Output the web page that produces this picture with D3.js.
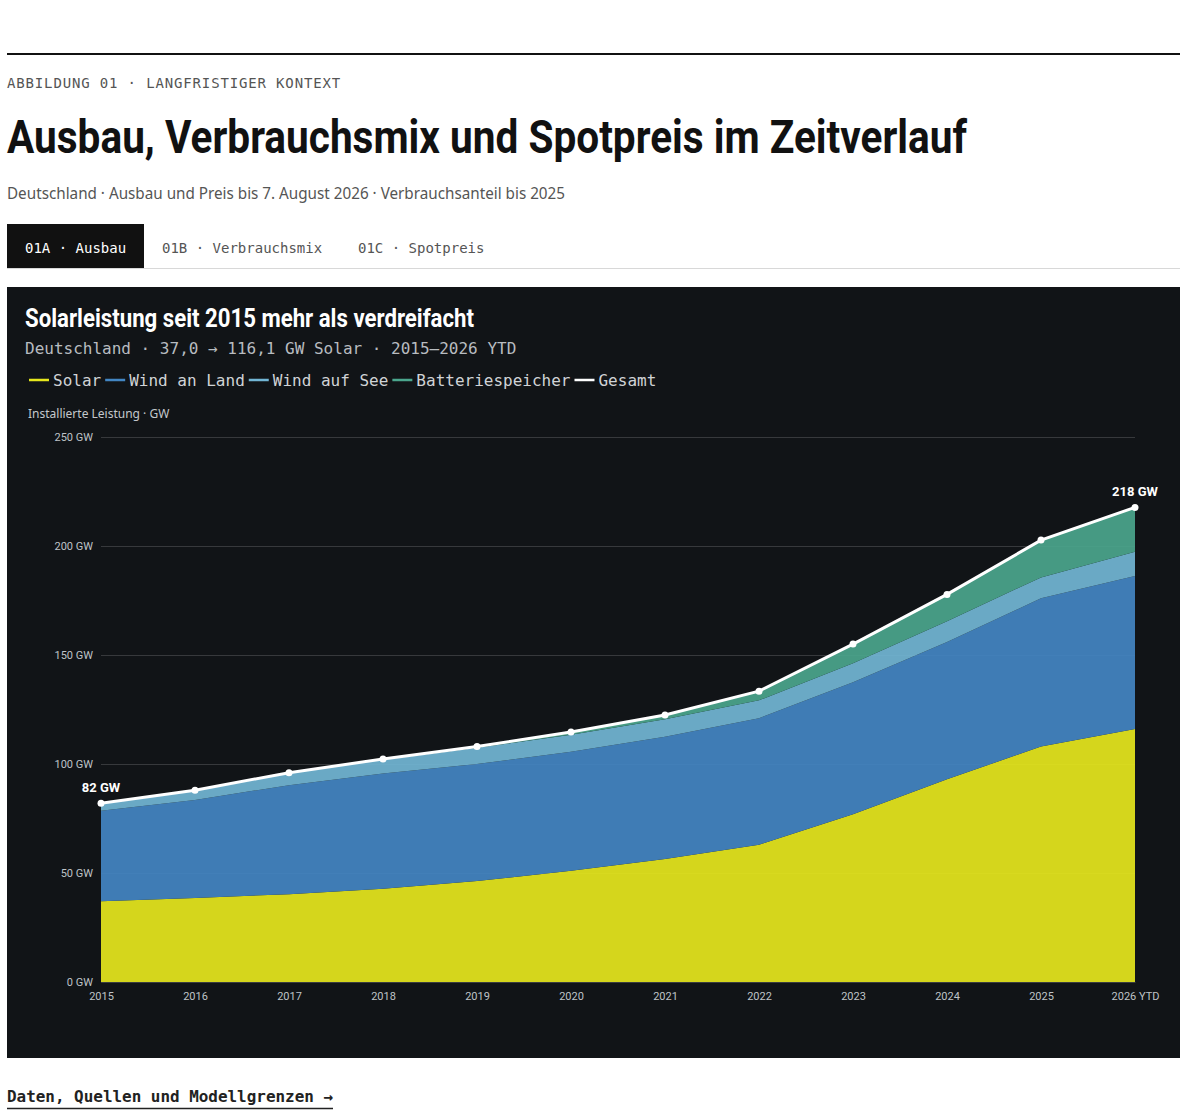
<!DOCTYPE html>
<meta charset="utf-8">
<head>
    <title>Ausbau, Verbrauchsmix und Spotpreis im Zeitverlauf</title>
    <script src="https://cdn.jsdelivr.net/npm/d3@7"></script>
    <style>
        body { margin: 0; background: #fff; }
        svg { display: block; }
        .mono { font-family: 'DejaVu Sans Mono', monospace; }
        .sans { font-family: 'Noto Sans', sans-serif; }
        .head { font-family: Roboto, sans-serif; font-weight: 700; }
        .axis text { font-family: Roboto, sans-serif; font-size: 11px; fill: #bfc3c7; }
        .grid line { stroke: #ffffff; stroke-opacity: 0.16; }
    </style>
</head>
<body>
<svg id="page" width="1180" height="1111"></svg>
<script>
    // Jahre und installierte Leistung in GW
    const years = ['2015', '2016', '2017', '2018', '2019', '2020', '2021', '2022', '2023', '2024', '2025', '2026 YTD'];
    const solar = [37.0, 38.5, 40.3, 42.8, 46.3, 51.0, 56.4, 63.0, 77.0, 93.0, 108.0, 116.1];
    const windLand = [41.5, 45.0, 50.0, 52.8, 53.7, 54.6, 56.1, 58.0, 60.5, 63.0, 68.0, 70.1];
    const windSee = [3.2, 4.1, 5.4, 6.4, 7.5, 7.8, 8.0, 8.2, 8.7, 9.5, 9.6, 11.2];
    const batterie = [0.1, 0.3, 0.3, 0.4, 0.5, 1.2, 1.9, 4.2, 8.8, 12.3, 17.1, 20.3];
    const gesamt = [82, 88, 96, 102.3, 108, 114.7, 122.5, 133.4, 155, 177.8, 202.7, 217.7];
    const yTicks = [0, 50, 100, 150, 200, 250];

    const series = [
        {key: 'solar', name: 'Solar', color: '#e6e71d', values: solar},
        {key: 'windLand', name: 'Wind an Land', color: '#4386c3', values: windLand},
        {key: 'windSee', name: 'Wind auf See', color: '#72b6d5', values: windSee},
        {key: 'batterie', name: 'Batteriespeicher', color: '#4ba68d', values: batterie}
    ];

    const rows = years.map((y, i) => {
        const r = {year: y};
        series.forEach(s => r[s.key] = s.values[i]);
        return r;
    });

    const svg = d3.select('#page');

    // ---- Seitenkopf ----
    svg.append('line')
        .attr('x1', 7).attr('x2', 1180).attr('y1', 54).attr('y2', 54)
        .attr('stroke', '#111').attr('stroke-width', 2);

    svg.append('text').attr('class', 'mono')
        .attr('x', 7).attr('y', 88)
        .style('font-size', '14px').style('letter-spacing', '0.85px').attr('fill', '#555')
        .text('ABBILDUNG 01 · LANGFRISTIGER KONTEXT');

    svg.append('text').attr('class', 'head')
        .attr('x', 7).attr('y', 153)
        .style('font-size', '46px').attr('fill', '#111')
        .attr('textLength', 960).attr('lengthAdjust', 'spacingAndGlyphs')
        .text('Ausbau, Verbrauchsmix und Spotpreis im Zeitverlauf');

    svg.append('text').attr('class', 'sans')
        .attr('x', 7).attr('y', 199)
        .style('font-size', '16px').attr('fill', '#555')
        .attr('textLength', 558).attr('lengthAdjust', 'spacingAndGlyphs')
        .text('Deutschland · Ausbau und Preis bis 7. August 2026 · Verbrauchsanteil bis 2025');

    // ---- Tabs ----
    const tabs = [
        {label: '01A · Ausbau', x: 25, active: true},
        {label: '01B · Verbrauchsmix', x: 162, active: false},
        {label: '01C · Spotpreis', x: 358, active: false}
    ];
    svg.append('rect').attr('x', 7).attr('y', 224).attr('width', 137).attr('height', 44).attr('fill', '#111');
    svg.append('line')
        .attr('x1', 7).attr('x2', 1180).attr('y1', 268.5).attr('y2', 268.5)
        .attr('stroke', '#d8d8d8').attr('stroke-width', 1);
    svg.selectAll('.tab').data(tabs).enter().append('text')
        .attr('class', 'tab mono')
        .attr('x', d => d.x).attr('y', 253)
        .style('font-size', '14px')
        .attr('fill', d => d.active ? '#fff' : '#555')
        .text(d => d.label);

    // ---- Diagrammfläche ----
    svg.append('rect').attr('x', 7).attr('y', 287).attr('width', 1173).attr('height', 771).attr('fill', '#111417');

    svg.append('text').attr('class', 'head')
        .attr('x', 25).attr('y', 327)
        .style('font-size', '25px').attr('fill', '#fff')
        .attr('textLength', 449).attr('lengthAdjust', 'spacingAndGlyphs')
        .text('Solarleistung seit 2015 mehr als verdreifacht');

    svg.append('text').attr('class', 'mono')
        .attr('x', 25).attr('y', 354)
        .style('font-size', '16px').attr('fill', '#b8bcc0')
        .text('Deutschland · 37,0 → 116,1 GW Solar · 2015–2026 YTD');

    // Legende
    const legendItems = series.map(s => ({name: s.name, color: s.color})).concat([{name: 'Gesamt', color: '#fff'}]);
    const legend = svg.append('g').attr('transform', 'translate(29, 386)');
    let lx = 0;
    legendItems.forEach(item => {
        legend.append('line')
            .attr('x1', lx).attr('x2', lx + 20).attr('y1', -6).attr('y2', -6)
            .attr('stroke', item.color).attr('stroke-width', 2.5);
        const t = legend.append('text').attr('class', 'mono')
            .attr('x', lx + 24).attr('y', 0)
            .style('font-size', '16px').attr('fill', '#d0d3d6')
            .text(item.name);
        lx += 24 + t.node().getComputedTextLength() + 4;
    });

    svg.append('text').attr('class', 'sans')
        .attr('x', 28).attr('y', 418)
        .style('font-size', '12px').attr('fill', '#c4c8cc')
        .text('Installierte Leistung · GW');

    const xScale = d3.scalePoint().domain(years).range([101, 1135]);
    const yScale = d3.scaleLinear().domain([0, 250]).range([982, 437]);

    // Gitterlinien
    svg.append('g').attr('class', 'grid')
        .attr('transform', 'translate(101, 0)')
        .call(d3.axisLeft(yScale).tickValues(yTicks).tickSize(-1034).tickFormat(''))
        .call(g => g.select('.domain').remove());

    // gestapelte Flächen
    const stack = d3.stack().keys(series.map(s => s.key));
    const layers = stack(rows);
    const area = d3.area()
        .x(d => xScale(d.data.year))
        .y0(d => yScale(d[0]))
        .y1(d => yScale(d[1]));

    svg.append('g').selectAll('path')
        .data(layers)
        .enter().append('path')
        .attr('d', area)
        .attr('fill', (d, i) => series[i].color)
        .attr('fill-opacity', 0.92);

    // Gesamtlinie
    const line = d3.line().x((d, i) => xScale(years[i])).y(d => yScale(d));
    svg.append('path')
        .datum(gesamt)
        .attr('d', line)
        .attr('fill', 'none')
        .attr('stroke', '#fff')
        .attr('stroke-width', 3);

    svg.append('g').selectAll('circle')
        .data(gesamt)
        .enter().append('circle')
        .attr('cx', (d, i) => xScale(years[i]))
        .attr('cy', d => yScale(d))
        .attr('r', 3.5)
        .attr('fill', '#fff');

    // Endwerte
    const ends = [0, gesamt.length - 1];
    svg.append('g').selectAll('text')
        .data(ends)
        .enter().append('text')
        .attr('x', i => xScale(years[i]))
        .attr('y', i => yScale(gesamt[i]) - 11)
        .attr('text-anchor', 'middle')
        .style('font-family', 'Roboto, sans-serif').style('font-weight', 700).style('font-size', '13px')
        .attr('fill', '#fff')
        .text(i => `${Math.round(gesamt[i])} GW`);

    // Achsen
    svg.append('g').attr('class', 'axis')
        .attr('transform', 'translate(101, 0)')
        .call(d3.axisLeft(yScale).tickValues(yTicks).tickSize(0).tickPadding(8).tickFormat(d => `${d} GW`))
        .call(g => g.select('.domain').remove());

    svg.append('g').attr('class', 'axis')
        .attr('transform', 'translate(0, 982)')
        .call(d3.axisBottom(xScale).tickSize(0).tickPadding(10))
        .call(g => g.select('.domain').attr('stroke', '#3a3d40'));

    // ---- Fußlink ----
    svg.append('text').attr('class', 'mono')
        .attr('x', 7).attr('y', 1102)
        .style('font-size', '16px').style('font-weight', 700).attr('fill', '#222')
        .attr('textLength', 326).attr('lengthAdjust', 'spacingAndGlyphs')
        .text('Daten, Quellen und Modellgrenzen →');
    svg.append('line')
        .attr('x1', 7).attr('x2', 333).attr('y1', 1108.5).attr('y2', 1108.5)
        .attr('stroke', '#222').attr('stroke-width', 1.5);
</script>
</body>
